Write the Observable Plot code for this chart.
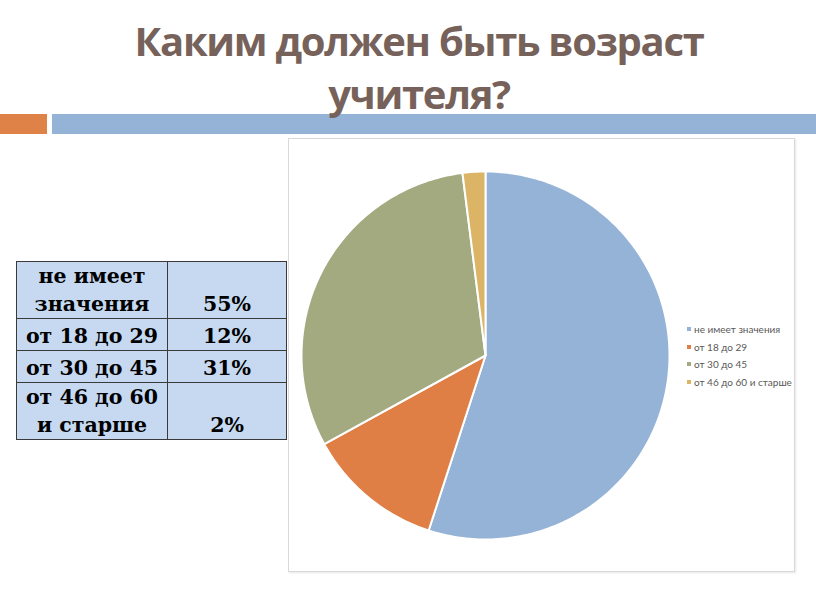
<!DOCTYPE html>
<html>
<head>
<meta charset="utf-8">
<script src="https://cdn.jsdelivr.net/npm/d3@7"></script>
<script src="https://cdn.jsdelivr.net/npm/@observablehq/plot@0.6"></script>
<style>
  html, body { margin: 0; padding: 0; background: #fff; }
  #page { position: relative; width: 816px; height: 613px; overflow: hidden; }
  #title { position: absolute; left: 0; top: 14px; width: 838px; text-align: center;
    font-family: "Open Sans", sans-serif; font-weight: 700; font-size: 40px; line-height: 53px;
    color: #76625a; letter-spacing: -1.3px; }
  .bar { position: absolute; top: 114px; height: 20px; }
  #tbl { position: absolute; left: 16px; top: 261px; border-collapse: collapse; table-layout: fixed;
    font-family: "DejaVu Serif", serif; font-weight: 700; font-size: 20.5px; color: #000; }
  #tbl td { border: 1.5px solid #3a3a3a; background: #c6d9f1; padding: 0; text-align: center;
    vertical-align: bottom; line-height: 28px; white-space: nowrap; }
  #box { position: absolute; left: 288px; top: 138px; width: 505px; height: 432px;
    border: 1px solid #d9d9d9; box-shadow: 1px 1px 2px #e6e6e6; background: #fff; }
  #box svg { position: absolute; left: 0; top: 0; }
  #legend { position: absolute; left: 398px; top: 182px; font-family: "Lato", sans-serif;
    font-size: 10px; color: #595959; }
  #legend div { height: 17.5px; line-height: 17.5px; white-space: nowrap; }
  #legend span.sw { display: inline-block; width: 4px; height: 4px; margin-right: 3px; vertical-align: middle; position: relative; top: -1px; }
</style>
</head>
<body>
<div id="page">
  <div class="bar" style="left:0;width:47px;background:#df8247;"></div>
  <div class="bar" style="left:52px;width:764px;background:#95b3d7;"></div>
  <div id="title"></div>
  <table id="tbl"></table>
  <div id="box"><div id="legend"></div></div>
</div>
<script>
const titleLines = ["Каким должен быть возраст", "учителя?"];
const categories = ["не имеет значения", "от 18 до 29", "от 30 до 45", "от 46 до 60 и старше"];
const tableLabels = [["не имеет", "значения"], ["от 18 до 29"], ["от 30 до 45"], ["от 46 до 60", "и старше"]];
const values = [55, 12, 31, 2];
const valueLabels = ["55%", "12%", "31%", "2%"];
const colors = ["#95b3d7", "#e07f45", "#a3aa80", "#dcb465"];

document.getElementById("title").innerHTML = titleLines.join("<br>");

// table
const tbl = document.getElementById("tbl");
const rowHeights = [55, 32, 32, 56];
const colgroup = document.createElement("colgroup");
colgroup.innerHTML = '<col style="width:151px"><col style="width:119px">';
tbl.append(colgroup);
categories.forEach((c, i) => {
  const tr = document.createElement("tr");
  tr.style.height = rowHeights[i] + "px";
  const td1 = document.createElement("td");
  td1.innerHTML = tableLabels[i].join("<br>");
  const td2 = document.createElement("td");
  td2.textContent = valueLabels[i];
  tr.append(td1, td2);
  tbl.append(tr);
});

// pie geometry from data
const arcs = d3.pie().sort(null).value(d => d.value)(categories.map((c, i) => ({cat: c, value: values[i]})));
const pts = [];
arcs.forEach(a => {
  const n = Math.max(4, Math.ceil((a.endAngle - a.startAngle) / (Math.PI / 180)));
  pts.push({cat: a.data.cat, x: 0, y: 0});
  for (let k = 0; k <= n; k++) {
    const t = a.startAngle + (a.endAngle - a.startAngle) * k / n;
    pts.push({cat: a.data.cat, x: Math.sin(t), y: Math.cos(t)});
  }
  pts.push({cat: a.data.cat, x: 0, y: 0});
});

const chart = Plot.plot({
  width: 505,
  height: 432,
  margin: 0,
  x: {domain: [-1, 1], range: [12, 380], axis: null},
  y: {domain: [-1, 1], range: [400, 32], axis: null},
  color: {domain: categories, range: colors},
  marks: [
    Plot.line(pts, {x: "x", y: "y", z: "cat", fill: "cat", stroke: "white", strokeWidth: 2, strokeLinejoin: "round", curve: "linear"})
  ]
});
document.getElementById("box").prepend(chart);

const legend = document.getElementById("legend");
categories.forEach((c, i) => {
  const d = document.createElement("div");
  d.innerHTML = `<span class="sw" style="background:${colors[i]}"></span>${c}`;
  legend.append(d);
});
</script>
</body>
</html>
